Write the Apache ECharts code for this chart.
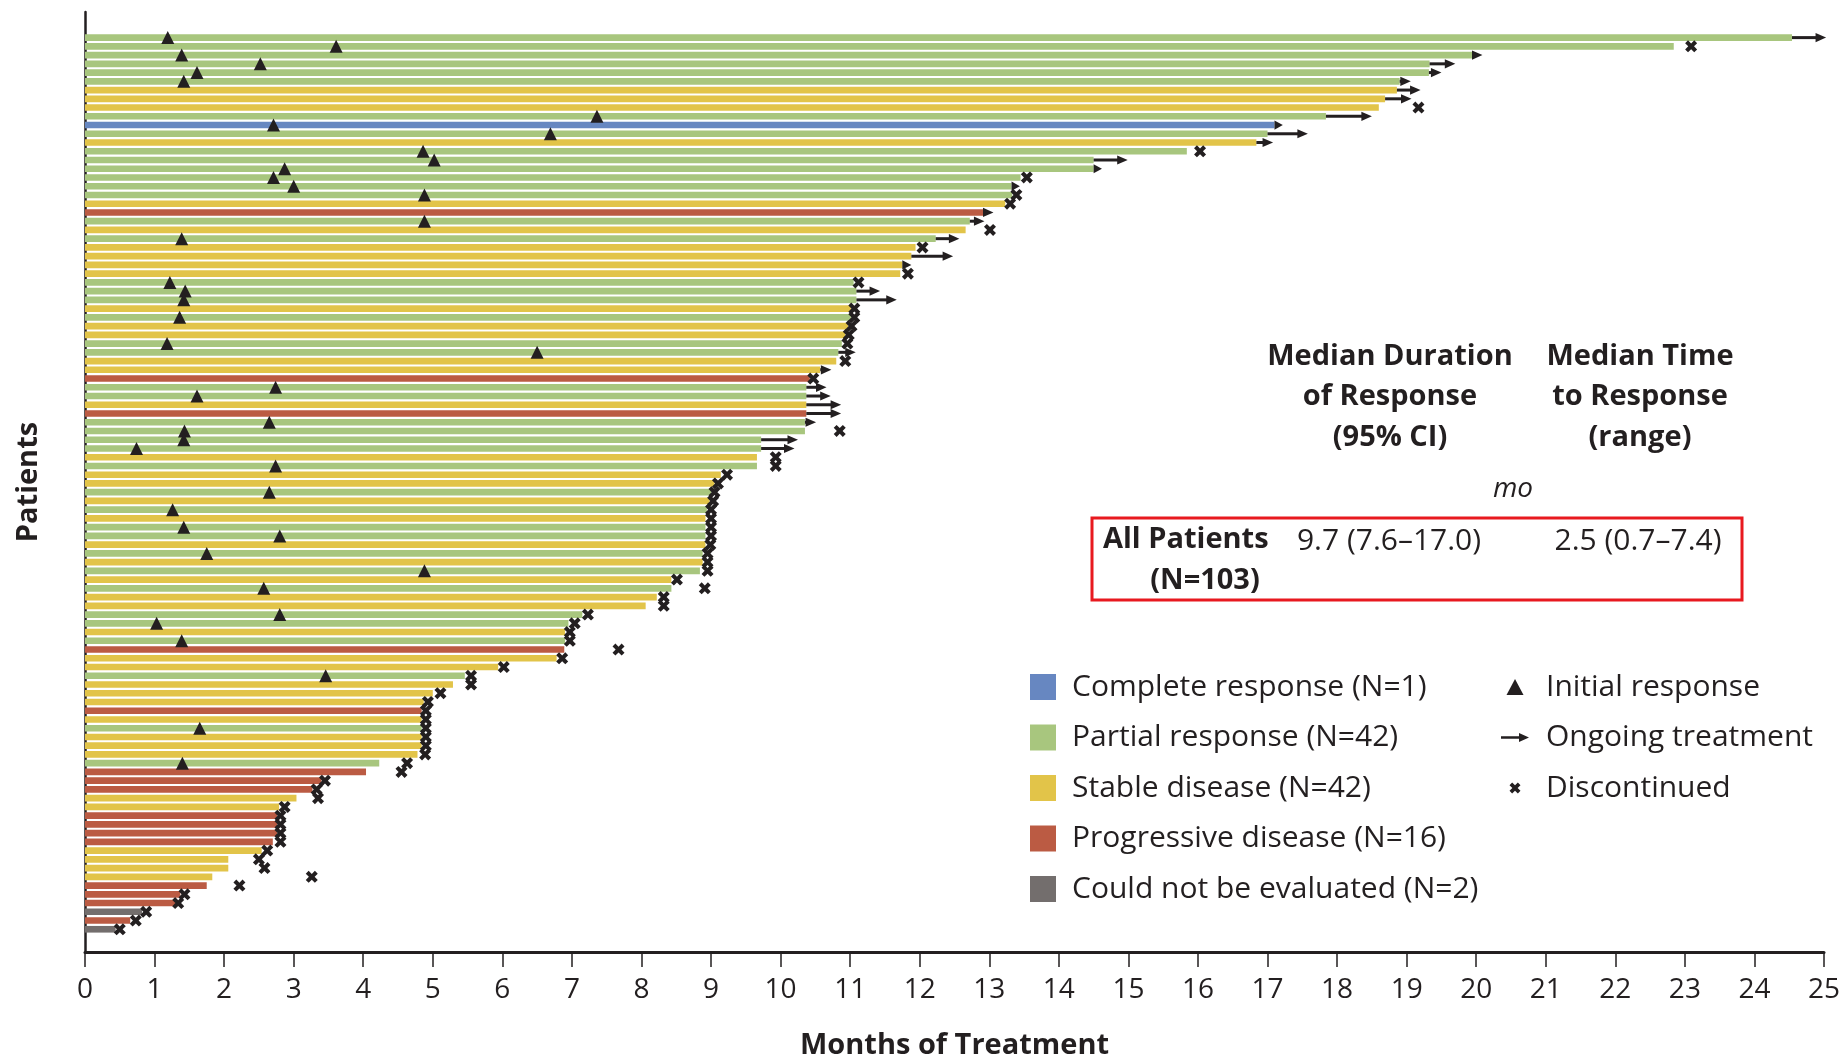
<!DOCTYPE html>
<html>
<head>
<meta charset="utf-8">
<title>Swimmer plot – months of treatment</title>
<script src="https://cdn.jsdelivr.net/npm/echarts@6/dist/echarts.min.js"></script>
<style>
  html, body { margin: 0; padding: 0; background: #ffffff; }
  #chart { width: 1842px; height: 1061px; }
</style>
</head>
<body>
<div id="chart"></div>
<script>
// Best overall response per patient, top row first
// CR complete, PR partial, SD stable, PD progressive, NE not evaluable
const response = [
  'PR','PR','PR','PR','PR','PR','SD','SD','SD','PR',
  'CR','PR','SD','PR','PR','PR','PR','PR','PR','SD',
  'PD','PR','SD','PR','SD','SD','SD','SD','PR','PR',
  'PR','SD','PR','SD','SD','PR','PR','SD','SD','PD',
  'PR','PR','SD','PD','PR','PR','PR','PR','SD','PR',
  'SD','SD','PR','SD','PR','SD','PR','PR','SD','PR',
  'SD','PR','SD','PR','SD','SD','PR','PR','SD','PR',
  'PD','SD','SD','PR','SD','SD','SD','PD','SD','PR',
  'SD','SD','SD','PR','PD','PD','PD','SD','SD','PD',
  'PD','PD','PD','SD','SD','SD','SD','PD','PD','PD',
  'NE','PD','NE'
];

// Months on treatment (bar length)
const treatmentMonths = [
  24.54, 22.84, 19.94, 19.33, 19.32, 18.90, 18.86, 18.69, 18.60, 17.84,
  17.10, 17.00, 16.84, 15.84, 14.50, 14.50, 13.45, 13.32, 13.33, 13.23,
  12.91, 12.72, 12.66, 12.23, 11.94, 11.88, 11.75, 11.72, 11.05, 11.09,
  11.09, 11.01, 11.01, 10.97, 10.93, 10.88, 10.83, 10.80, 10.57, 10.42,
  10.37, 10.37, 10.37, 10.37, 10.35, 10.35,  9.72,  9.72,  9.66,  9.66,
   9.14,  9.05,  9.00,  8.98,  8.94,  8.92,  8.92,  8.92,  8.92,  8.88,
   8.88,  8.84,  8.43,  8.43,  8.22,  8.06,  7.15,  6.95,  6.90,  6.90,
   6.89,  6.78,  5.94,  5.46,  5.29,  5.00,  4.87,  4.84,  4.84,  4.84,
   4.84,  4.84,  4.78,  4.23,  4.04,  3.40,  3.27,  3.04,  2.79,  2.76,
   2.76,  2.76,  2.70,  2.54,  2.06,  2.06,  1.83,  1.75,  1.37,  1.30,
   0.82,  0.65,  0.44
];

// Time of initial response (triangle), null when no response
const initialResponseMonths = [
  1.19, 3.61, 1.39, 2.52, 1.61, 1.42, null, null, null, 7.36,
  2.71, 6.69, null, 4.86, 5.02, 2.87, 2.71, 3.00, 4.88, null,
  null, 4.88, null, 1.39, null, null, null, null, 1.22, 1.44,
  1.42, null, 1.36, null, null, 1.18, 6.50, null, null, null,
  2.74, 1.61, null, null, 2.65, 1.43, 1.42, 0.74, null, 2.74,
  null, null, 2.65, null, 1.26, null, 1.42, 2.80, null, 1.75,
  null, 4.88, null, 2.57, null, null, 2.80, 1.03, null, 1.39,
  null, null, null, 3.46, null, null, null, null, null, 1.65,
  null, null, null, 1.40, null, null, null, null, null, null,
  null, null, null, null, null, null, null, null, null, null,
  null, null, null
];

// Discontinuation time (cross), null while treatment is ongoing
const discontinuedMonths = [
  null, 23.09, null, null, null, null, null, null, 19.17, null,
  null, null, null, 16.03, null, null, 13.54, null, 13.39, 13.30,
  null, null, 13.01, null, 12.04, null, null, 11.83, 11.12, null,
  null, 11.06, 11.06, 11.02, 10.98, 10.96, null, 10.93, null, 10.47,
  null, null, null, null, null, 10.85, null, null,  9.93,  9.93,
   9.23,  9.10,  9.05,  9.03,  9.00,  9.00,  9.00,  9.00,  8.99,  8.95,
   8.95,  8.95,  8.51,  8.91,  8.32,  8.32,  7.23,  7.04,  6.97,  6.97,
   7.67,  6.86,  6.02,  5.55,  5.55,  5.11,  4.93,  4.90,  4.90,  4.90,
   4.90,  4.90,  4.89,  4.63,  4.55,  3.45,  3.33,  3.35,  2.87,  2.81,
   2.81,  2.81,  2.81,  2.62,  2.50,  2.58,  3.26,  2.22,  1.43,  1.34,
   0.88,  0.73,  0.50
];

// Tip of the ongoing-treatment arrow, null when discontinued
const ongoingArrowTips = [
  25.03, null, 20.09, 19.70, 19.50, 19.06, 19.20, 19.07, null, 18.50,
  17.22, 17.58, 17.08, null, 14.99, 14.62, null, 13.44, null, null,
  13.06, 12.93, null, 12.57, null, 12.48, 11.88, null, null, 11.43,
  11.67, null, null, null, null, null, 11.08, null, 10.73, null,
  10.66, 10.72, 10.87, 10.87, 10.51, null, 10.25, 10.20, null, null,
  null, null, null, null, null, null, null, null, null, null,
  null, null, null, null, null, null, null, null, null, null,
  null, null, null, null, null, null, null, null, null, null,
  null, null, null, null, null, null, null, null, null, null,
  null, null, null, null, null, null, null, null, null, null,
  null, null, null
];

const responseGroups = [
  { code: 'CR', name: 'Complete response (N=1)',    color: '#6787c1' },
  { code: 'PR', name: 'Partial response (N=42)',    color: '#a8c67e' },
  { code: 'SD', name: 'Stable disease (N=42)',      color: '#e2c449' },
  { code: 'PD', name: 'Progressive disease (N=16)', color: '#bb5b43' },
  { code: 'NE', name: 'Could not be evaluated (N=2)', color: '#736e6d' }
];

const monthTicks = [0,1,2,3,4,5,6,7,8,9,10,11,12,13,14,15,16,17,18,19,20,21,22,23,24,25];

const INK = '#231f20';
const FONT = "'Open Sans', 'Noto Sans', sans-serif";

// --- data for the library -------------------------------------------------
function barsFor(code) {
  const out = [];
  response.forEach((r, i) => { if (r === code) out.push([treatmentMonths[i], i + 1]); });
  return out;
}
const triangleData = [];
initialResponseMonths.forEach((m, i) => { if (m !== null) triangleData.push([m, i + 1]); });
const crossData = [];
discontinuedMonths.forEach((m, i) => { if (m !== null) crossData.push([m, i + 1]); });
const arrowData = [];
ongoingArrowTips.forEach((m, i) => { if (m !== null) arrowData.push([treatmentMonths[i], m, i + 1]); });

// --- renderers --------------------------------------------------------------
function renderBar(params, api) {
  const row = api.value(1);
  const a = api.coord([0, row]);
  const b = api.coord([api.value(0), row]);
  const h = api.size([0, 1])[1] * 0.76;
  return {
    type: 'rect',
    shape: { x: a[0], y: a[1] - h / 2, width: b[0] - a[0], height: h },
    style: { fill: api.visual('color') }
  };
}

function renderArrow(params, api) {
  const row = api.value(2);
  const from = api.coord([api.value(0), row]);
  const tip = api.coord([api.value(1), row]);
  const headLen = 10.5, headHalf = 4.6;
  const baseX = Math.max(from[0], tip[0] - headLen);
  const y = tip[1];
  const children = [];
  if (baseX > from[0] + 0.5) {
    children.push({
      type: 'line',
      shape: { x1: from[0], y1: y, x2: baseX + 1, y2: y },
      style: { stroke: INK, lineWidth: 3 }
    });
  }
  children.push({
    type: 'polygon',
    shape: { points: [[tip[0], y], [baseX, y - headHalf], [baseX, y + headHalf]] },
    style: { fill: INK }
  });
  return { type: 'group', children };
}

const crossPath = 'path://M2.4,0 L5,2.6 L7.6,0 L10,2.4 L7.4,5 L10,7.6 L7.6,10 L5,7.4 L2.4,10 L0,7.6 L2.6,5 L0,2.4 Z';

// legend icons padded to a 30x26 box
const legendTriangle = 'path://M0,0 M30,26 M6.5,21 L15,5 L23.5,21 Z';
const legendArrow = 'path://M0,0 M30,26 M1,11.8 L19,11.8 L19,8.5 L29,13 L19,17.5 L19,14.2 L1,14.2 Z';
const legendCross = 'path://M0,0 M30,26 M12.14,7.5 L15,10.36 L17.86,7.5 L20.5,10.14 L17.64,13 L20.5,15.86 L17.86,18.5 L15,15.64 L12.14,18.5 L9.5,15.86 L12.36,13 L9.5,10.14 Z';

const barSeries = responseGroups.map(g => ({
  name: g.name,
  type: 'custom',
  renderItem: renderBar,
  itemStyle: { color: g.color },
  encode: { x: 0, y: 1 },
  data: barsFor(g.code),
  z: 2,
  silent: true
}));

const legendText = { fontFamily: FONT, fontSize: 30, color: INK, padding: [0, 0, 0, 11] };

const chart = echarts.init(document.getElementById('chart'), null, { renderer: 'canvas' });

chart.setOption({
  animation: false,
  backgroundColor: '#ffffff',
  grid: { left: 85, right: 18, top: 12, bottom: 109, containLabel: false, outerBoundsMode: 'none' },
  xAxis: {
    type: 'value',
    min: 0,
    max: 25,
    interval: 1,
    name: 'Months of Treatment',
    nameLocation: 'middle',
    nameGap: 79,
    nameTextStyle: { fontFamily: FONT, fontSize: 29, fontWeight: 'bold', color: INK },
    axisLine: { onZero: false, lineStyle: { color: INK, width: 3 } },
    axisTick: { show: true, length: 15, lineStyle: { color: INK, width: 1.5 } },
    axisLabel: {
      margin: 24,
      fontFamily: FONT,
      fontSize: 28,
      color: INK,
      formatter: v => String(monthTicks[v] !== undefined ? monthTicks[v] : v)
    },
    splitLine: { show: false }
  },
  yAxis: {
    type: 'value',
    inverse: true,
    min: -1.93,
    max: 105.6,
    name: 'Patients',
    nameLocation: 'middle',
    nameRotate: 90,
    nameGap: 42,
    nameTextStyle: { fontFamily: FONT, fontSize: 29, fontWeight: 'bold', color: INK },
    axisLine: { show: true, onZero: false, lineStyle: { color: INK, width: 2.5 } },
    axisTick: { show: false },
    axisLabel: { show: false },
    splitLine: { show: false }
  },
  legend: [
    {
      orient: 'vertical',
      left: 1030,
      top: 672,
      padding: 0,
      itemWidth: 26,
      itemHeight: 26,
      itemGap: 20.5,
      selectedMode: false,
      data: responseGroups.map(g => ({ name: g.name, icon: 'rect' })),
      textStyle: legendText
    },
    {
      orient: 'vertical',
      left: 1500,
      top: 672,
      padding: 0,
      itemWidth: 30,
      itemHeight: 26,
      itemGap: 20.5,
      selectedMode: false,
      data: [
        { name: 'Initial response', icon: legendTriangle },
        { name: 'Ongoing treatment', icon: legendArrow },
        { name: 'Discontinued', icon: legendCross }
      ],
      textStyle: legendText
    }
  ],
  series: barSeries.concat([
    {
      name: 'Ongoing treatment',
      type: 'custom',
      renderItem: renderArrow,
      itemStyle: { color: INK },
      encode: { x: [0, 1], y: 2 },
      data: arrowData,
      z: 3,
      silent: true
    },
    {
      name: 'Discontinued',
      type: 'scatter',
      symbol: crossPath,
      symbolSize: 12,
      itemStyle: { color: INK, opacity: 1 },
      data: crossData,
      z: 4,
      silent: true
    },
    {
      name: 'Initial response',
      type: 'scatter',
      symbol: 'triangle',
      symbolSize: [13, 13],
      itemStyle: { color: INK, opacity: 1 },
      data: triangleData,
      z: 5,
      silent: true
    }
  ]),
  graphic: [
    {
      type: 'text', x: 1390, y: 397,
      style: {
        text: 'Median Duration\nof Response\n(95% CI)',
        font: 'bold 29px ' + FONT, fill: INK,
        align: 'center', verticalAlign: 'middle', lineHeight: 40.5
      }
    },
    {
      type: 'text', x: 1640, y: 397,
      style: {
        text: 'Median Time\nto Response\n(range)',
        font: 'bold 29px ' + FONT, fill: INK,
        align: 'center', verticalAlign: 'middle', lineHeight: 40.5
      }
    },
    {
      type: 'text', x: 1513, y: 489,
      style: { text: 'mo', font: 'italic 28px ' + FONT, fill: INK, align: 'center', verticalAlign: 'middle' }
    },
    {
      type: 'rect',
      shape: { x: 1092, y: 518, width: 650, height: 82 },
      style: { fill: 'none', stroke: '#e8191f', lineWidth: 3 }
    },
    {
      type: 'text', x: 1103, y: 540,
      style: { text: 'All Patients', font: 'bold 29px ' + FONT, fill: INK, align: 'left', verticalAlign: 'middle' }
    },
    {
      type: 'text', x: 1205, y: 581,
      style: { text: '(N=103)', font: 'bold 29px ' + FONT, fill: INK, align: 'center', verticalAlign: 'middle' }
    },
    {
      type: 'text', x: 1389, y: 541,
      style: { text: '9.7 (7.6\u201317.0)', font: '30px ' + FONT, fill: INK, align: 'center', verticalAlign: 'middle' }
    },
    {
      type: 'text', x: 1638, y: 541,
      style: { text: '2.5 (0.7\u20137.4)', font: '30px ' + FONT, fill: INK, align: 'center', verticalAlign: 'middle' }
    }
  ]
});
</script>
</body>
</html>
